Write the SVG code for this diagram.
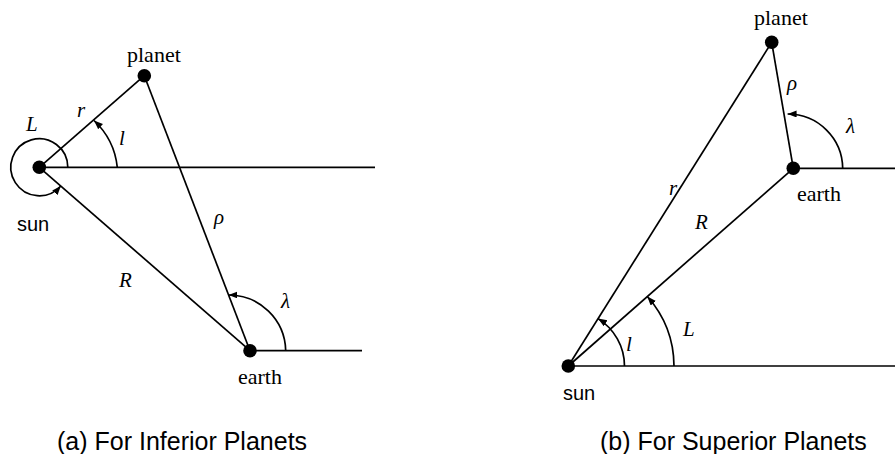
<svg xmlns="http://www.w3.org/2000/svg" width="895" height="454" viewBox="0 0 895 454">
<style>
.ln{stroke:#000;stroke-width:1.7;fill:none}
.arc{stroke:#000;stroke-width:1.7;fill:none;marker-end:url(#ah)}
.dot{fill:#000}
.lbl{font-family:"Liberation Serif","Times New Roman",serif;font-size:22px;fill:#000}
.var{font-family:"Liberation Serif","Times New Roman",serif;font-style:italic;font-size:21px;fill:#000}
.sans{font-family:"Liberation Sans",Arial,sans-serif;font-size:20px;fill:#000}
.cap{font-family:"Liberation Sans",Arial,sans-serif;font-size:25px;fill:#000}
</style>
<defs>
<marker id="ah" markerUnits="userSpaceOnUse" markerWidth="10" markerHeight="8" refX="9" refY="3.5" orient="auto">
<path d="M0,0 L9,3.5 L0,7 z" fill="#000"/>
</marker>
</defs>
<g id="connectors">
<line class="ln" x1="39.3" y1="167.3" x2="375" y2="167.3"/>
<line class="ln" x1="39.3" y1="167.3" x2="144.3" y2="75.7"/>
<line class="ln" x1="39.3" y1="167.3" x2="250" y2="350.7"/>
<line class="ln" x1="144.3" y1="75.7" x2="250" y2="350.7"/>
<line class="ln" x1="250" y1="350.7" x2="362" y2="350.7"/>
<path class="arc" d="M117.3,167.3 A75,75 0 0 0 94,120.5"/>
<path class="arc" d="M67.8,167.3 A28.5,28.5 0 1 0 60.8,186"/>
<path class="arc" d="M285.7,350.7 A57,57 0 0 0 228.5,295"/>
<line class="ln" x1="568.3" y1="366" x2="895" y2="366"/>
<line class="ln" x1="568.3" y1="366" x2="771.7" y2="42.3"/>
<line class="ln" x1="568.3" y1="366" x2="793.3" y2="168.3"/>
<line class="ln" x1="771.7" y1="42.3" x2="793.3" y2="168.3"/>
<line class="ln" x1="793.3" y1="168.3" x2="895" y2="168.3"/>
<path class="arc" d="M624.5,366 A56,56 0 0 0 598,318.6"/>
<path class="arc" d="M674,366 A105.7,105.7 0 0 0 647.3,296.5"/>
<path class="arc" d="M842.7,168.3 A55,55 0 0 0 787.6,114"/>
</g>
<g id="sun-a"><circle class="dot" cx="39.3" cy="167.3" r="6.8"/><text class="sans" x="17" y="231">sun</text></g>
<g id="planet-a"><circle class="dot" cx="144.3" cy="75.7" r="6.8"/><text class="lbl" x="127" y="62">planet</text></g>
<g id="earth-a"><circle class="dot" cx="250" cy="350.7" r="6.8"/><text class="lbl" x="238" y="384">earth</text></g>
<g id="labels-a">
<text class="var" x="77" y="117">r</text>
<text class="var" x="119" y="145">l</text>
<text class="var" x="26" y="131">L</text>
<text class="var" x="214" y="224">ρ</text>
<text class="var" x="119" y="287">R</text>
<text class="var" x="281" y="308">λ</text>
<text class="cap" x="57" y="450">(a) For Inferior Planets</text>
</g>
<g id="sun-b"><circle class="dot" cx="568.3" cy="366" r="6.8"/><text class="sans" x="563" y="400">sun</text></g>
<g id="planet-b"><circle class="dot" cx="771.7" cy="42.3" r="6.8"/><text class="lbl" x="754" y="25">planet</text></g>
<g id="earth-b"><circle class="dot" cx="793.3" cy="168.3" r="6.8"/><text class="lbl" x="797" y="201">earth</text></g>
<g id="labels-b">
<text class="var" x="787" y="90">ρ</text>
<text class="var" x="846" y="133">λ</text>
<text class="var" x="669" y="195">r</text>
<text class="var" x="695" y="229">R</text>
<text class="var" x="626" y="351">l</text>
<text class="var" x="683" y="336">L</text>
<text class="cap" x="600" y="450">(b) For Superior Planets</text>
</g>
</svg>
